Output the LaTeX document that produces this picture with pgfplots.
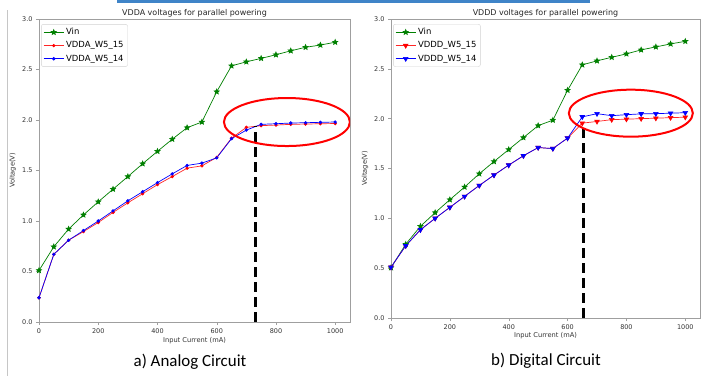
\documentclass[border=0pt]{standalone}
\usepackage{fontspec}
\setmainfont{DejaVu Sans}
\newfontfamily\capfont{Carlito}
\usepackage{pgfplots}
\pgfplotsset{compat=1.18}
\definecolor{mplgreen}{HTML}{008000}
\definecolor{barblue}{HTML}{3F84C8}
\pgfdeclareplotmark{fstar}{%
  \pgfpathmoveto{\pgfpointpolar{90}{\pgfplotmarksize}}%
  \pgfpathlineto{\pgfpointpolar{126}{0.45\pgfplotmarksize}}%
  \pgfpathlineto{\pgfpointpolar{162}{\pgfplotmarksize}}%
  \pgfpathlineto{\pgfpointpolar{198}{0.45\pgfplotmarksize}}%
  \pgfpathlineto{\pgfpointpolar{234}{\pgfplotmarksize}}%
  \pgfpathlineto{\pgfpointpolar{270}{0.45\pgfplotmarksize}}%
  \pgfpathlineto{\pgfpointpolar{306}{\pgfplotmarksize}}%
  \pgfpathlineto{\pgfpointpolar{342}{0.45\pgfplotmarksize}}%
  \pgfpathlineto{\pgfpointpolar{18}{\pgfplotmarksize}}%
  \pgfpathlineto{\pgfpointpolar{54}{0.45\pgfplotmarksize}}%
  \pgfpathclose\pgfusepathqfillstroke}
\pgfplotsset{
  myaxis/.style={
    scale only axis, anchor=south west,
    xmin=0, xmax=1050, ymin=0, ymax=3,
    xtick={0,200,400,600,800,1000},
    ytick={0,0.5,1,1.5,2,2.5,3},
    yticklabel style={/pgf/number format/.cd,fixed,fixed zerofill,precision=1},
    /pgf/number format/1000 sep={},
    /pgf/number format/assume math mode=true,
    tick label style={font=\fontsize{6.5}{7}\selectfont, text=black!80},
    tick align=outside, tick pos=left, major tick length=3bp,
    axis line style={gray!75},
    every tick/.style={gray!75},
    label style={font=\fontsize{6.7}{8}\selectfont, text=black!80},
    xlabel style={at={(axis description cs:0.5,-0.06)}, anchor=center},
    ylabel style={at={(axis description cs:-0.084,0.5)}, anchor=center},
    every axis title shift=0pt,
    title style={font=\fontsize{8}{10}\selectfont, text=black!85, at={(axis description cs:0.5,1)}, anchor=base, yshift=3.5bp},
    xlabel={Input Current (mA)}, ylabel={Voltage(V)},
    legend cell align=left,
    legend style={at={(axis description cs:0.007,0.983)}, anchor=north west,
      draw=gray!35, rounded corners=2bp, font=\fontsize{8.5}{10}\selectfont,
      row sep=1.5bp, inner sep=2bp},
    legend image code/.code={\draw[mark repeat=2,mark phase=2,##1] plot coordinates {(0bp,0bp) (10bp,0bp) (20bp,0bp)};},
  },
}
\begin{document}
\begin{tikzpicture}
\path[use as bounding box] (0bp,0bp) rectangle (710bp,376bp);
\fill[white] (0bp,0bp) rectangle (710bp,376bp);
\fill[barblue] (117bp,373bp) rectangle (590bp,376bp);
\draw[gray!45, line width=0.8bp] (7bp,0bp) -- (7bp,366bp);

\begin{axis}[myaxis, at={(39bp,54bp)}, width=311bp, height=303bp,
  title={VDDA voltages for parallel powering}]
\addplot[mplgreen, line width=0.7bp, mark=fstar, mark size=2.6bp] coordinates {
(0,0.51)(50,0.745)(100,0.92)(150,1.06)(200,1.19)(250,1.315)(300,1.44)(350,1.567)(400,1.69)(450,1.81)(500,1.924)(550,1.98)(600,2.28)(650,2.536)(700,2.576)(750,2.61)(800,2.646)(850,2.685)(900,2.72)(950,2.742)(1000,2.77)};
\addlegendentry{Vin}
\addplot[red!85, line width=0.7bp, mark=*, mark size=1.3bp, mark options={red}] coordinates {
(0,0.24)(50,0.67)(100,0.81)(150,0.895)(200,0.985)(250,1.085)(300,1.18)(350,1.27)(400,1.36)(450,1.44)(500,1.523)(550,1.546)(600,1.63)(650,1.82)(700,1.927)(750,1.944)(800,1.95)(850,1.957)(900,1.96)(950,1.963)(1000,1.965)};
\addlegendentry{VDDA\_W5\_15}
\addplot[blue, line width=0.7bp, mark=*, mark size=1.3bp] coordinates {
(0,0.24)(50,0.67)(100,0.81)(150,0.905)(200,1.0)(250,1.10)(300,1.20)(350,1.29)(400,1.38)(450,1.467)(500,1.55)(550,1.573)(600,1.625)(650,1.815)(700,1.90)(750,1.957)(800,1.963)(850,1.97)(900,1.973)(950,1.977)(1000,1.98)};
\addlegendentry{VDDA\_W5\_14}
\addplot[black, line width=2.6bp, dash pattern=on 10bp off 5bp, forget plot] coordinates {(731,0) (731,1.94)};
\draw[red, line width=2bp] (axis cs:837,1.98) ellipse [x radius=63bp, y radius=24bp];
\end{axis}

\begin{axis}[myaxis, at={(391bp,58bp)}, width=309bp, height=299bp,
  title={VDDD voltages for parallel powering}]
\addplot[mplgreen, line width=0.7bp, mark=fstar, mark size=2.6bp] coordinates {
(0,0.505)(50,0.74)(100,0.92)(150,1.057)(200,1.187)(250,1.314)(300,1.447)(350,1.57)(400,1.69)(450,1.81)(500,1.93)(550,1.985)(600,2.285)(650,2.54)(700,2.58)(750,2.616)(800,2.65)(850,2.69)(900,2.72)(950,2.75)(1000,2.776)};
\addlegendentry{Vin}
\addplot[red!85, line width=0.7bp, mark=triangle*, mark size=2.6bp, mark options={red, rotate=180}] coordinates {
(0,0.51)(50,0.725)(100,0.885)(150,1.0)(200,1.11)(250,1.22)(300,1.33)(350,1.434)(400,1.534)(450,1.628)(500,1.71)(550,1.70)(600,1.805)(650,1.955)(700,1.972)(750,1.99)(800,1.995)(850,2.0)(900,2.005)(950,2.01)(1000,2.015)};
\addlegendentry{VDDD\_W5\_15}
\addplot[blue, line width=0.7bp, mark=triangle*, mark size=2.6bp, mark options={blue, rotate=180}] coordinates {
(0,0.51)(50,0.725)(100,0.885)(150,1.0)(200,1.11)(250,1.22)(300,1.33)(350,1.434)(400,1.534)(450,1.628)(500,1.71)(550,1.70)(600,1.805)(650,2.018)(700,2.05)(750,2.03)(800,2.04)(850,2.048)(900,2.05)(950,2.055)(1000,2.06)};
\addlegendentry{VDDD\_W5\_14}
\addplot[black, line width=2.6bp, dash pattern=on 10bp off 5bp, forget plot] coordinates {(655,0) (655,1.92)};
\draw[red, line width=2bp] (axis cs:815,2.055) ellipse [x radius=62bp, y radius=23.5bp];
\end{axis}

\node[font=\capfont\fontsize{17}{20}\selectfont, anchor=base] at (190bp,10bp) {a) Analog Circuit};
\node[font=\capfont\fontsize{17}{20}\selectfont, anchor=base] at (546bp,11bp) {b) Digital Circuit};
\end{tikzpicture}
\end{document}
